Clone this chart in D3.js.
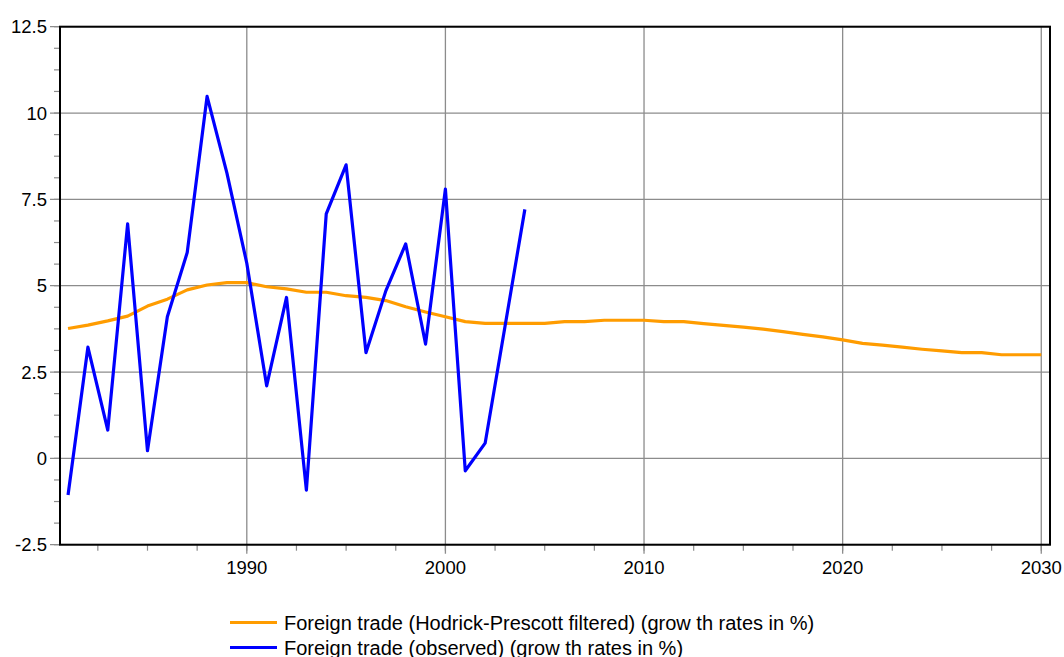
<!DOCTYPE html>
<html>
<head>
<meta charset="utf-8">
<script src="https://cdn.jsdelivr.net/npm/d3@7"></script>
<style>
  body { margin: 0; background: #fff; }
  svg text { font-family: "Liberation Sans", Arial, sans-serif; fill: #000; }
</style>
</head>
<body>
<div id="chart"></div>
<script>
// years and values
var hpYears = d3.range(1981, 2031);
var hpValues = [3.76, 3.86, 3.98, 4.12, 4.41, 4.61, 4.88, 5.02, 5.09, 5.09,
    4.97, 4.91, 4.81, 4.81, 4.71, 4.66, 4.57, 4.39, 4.24, 4.10,
    3.96, 3.91, 3.91, 3.91, 3.91, 3.96, 3.96, 4.00, 4.00, 4.00,
    3.96, 3.96, 3.90, 3.85, 3.80, 3.74, 3.67, 3.59, 3.52, 3.43,
    3.33, 3.28, 3.22, 3.16, 3.11, 3.06, 3.06, 3.00, 3.00, 3.00];

var obsYears = d3.range(1981, 2005);
var obsValues = [-1.06, 3.22, 0.82, 6.79, 0.22, 4.10, 5.96, 10.48, 8.26, 5.65,
    2.10, 4.66, -0.92, 7.08, 8.50, 3.06, 4.85, 6.21, 3.31, 7.80,
    -0.36, 0.44, 3.82, 7.21];

var yTicks = [-2.5, 0, 2.5, 5, 7.5, 10, 12.5];
var xTicks = [1990, 2000, 2010, 2020, 2030];
var legendLabels = ["Foreign trade (Hodrick-Prescott filtered) (grow th rates in %)",
    "Foreign trade (observed) (grow th rates in %)"];
var lineColors = ["#ff9c00", "#0000ff"];

var svg = d3.select("#chart").append("svg").attr("width", 1064).attr("height", 657);

var plotLeft = 60, plotRight = 1050, plotTop = 26.7, plotBottom = 544.7;
var x = d3.scaleLinear().domain([1980.595, 2030.44]).range([plotLeft, plotRight]);
var y = d3.scaleLinear().domain([-2.5, 12.5]).range([plotBottom, plotTop]);

var gridColor = "#8c8c8c";

// minor ticks on y axis (every 0.625)
var yMinor = d3.range(-2.5, 12.5001, 0.625);
svg.selectAll(".yminor").data(yMinor).enter().append("line")
    .attr("x1", plotLeft - 6).attr("x2", plotLeft)
    .attr("y1", function (d) { return y(d); }).attr("y2", function (d) { return y(d); })
    .attr("stroke", gridColor).attr("stroke-width", 1.2);

// minor ticks on x axis (every 2.5 years)
var xMinor = d3.range(1982.5, 2030.1, 2.5);
svg.selectAll(".xminor").data(xMinor).enter().append("line")
    .attr("x1", function (d) { return x(d); }).attr("x2", function (d) { return x(d); })
    .attr("y1", plotBottom).attr("y2", plotBottom + 6)
    .attr("stroke", gridColor).attr("stroke-width", 1.2);

// horizontal grid + major ticks
svg.selectAll(".hgrid").data(yTicks).enter().append("line")
    .attr("x1", plotLeft - 10).attr("x2", plotRight)
    .attr("y1", function (d) { return y(d); }).attr("y2", function (d) { return y(d); })
    .attr("stroke", gridColor).attr("stroke-width", 1.3);

// vertical grid + major ticks
svg.selectAll(".vgrid").data(xTicks).enter().append("line")
    .attr("x1", function (d) { return x(d); }).attr("x2", function (d) { return x(d); })
    .attr("y1", plotTop).attr("y2", plotBottom + 9)
    .attr("stroke", gridColor).attr("stroke-width", 1.3);

// frame
svg.append("rect").attr("x", plotLeft).attr("y", plotTop)
    .attr("width", plotRight - plotLeft).attr("height", plotBottom - plotTop)
    .attr("fill", "none").attr("stroke", "#000").attr("stroke-width", 2);

// tick labels
svg.selectAll(".ylab").data(yTicks).enter().append("text")
    .attr("x", 47).attr("y", function (d) { return y(d) + 6.5; })
    .attr("text-anchor", "end").style("font-size", "18.5px")
    .text(function (d) { return d; });

svg.selectAll(".xlab").data(xTicks).enter().append("text")
    .attr("x", function (d) { return x(d); }).attr("y", 574)
    .attr("text-anchor", "middle").style("font-size", "18.5px")
    .text(function (d) { return d; });

// series lines
var hpLine = d3.line().x(function (d, i) { return x(hpYears[i]); }).y(function (d) { return y(d); });
var obsLine = d3.line().x(function (d, i) { return x(obsYears[i]); }).y(function (d) { return y(d); });

svg.append("path").attr("d", hpLine(hpValues)).attr("fill", "none")
    .attr("stroke", lineColors[0]).attr("stroke-width", 3.2).attr("stroke-linejoin", "round");
svg.append("path").attr("d", obsLine(obsValues)).attr("fill", "none")
    .attr("stroke", lineColors[1]).attr("stroke-width", 3.2).attr("stroke-linejoin", "round");

// legend
legendLabels.forEach(function (label, i) {
    var ly = 622.5 + i * 25;
    svg.append("line").attr("x1", 230).attr("x2", 277).attr("y1", ly).attr("y2", ly)
        .attr("stroke", lineColors[i]).attr("stroke-width", 3.2);
    svg.append("text").text(label).attr("x", 284).attr("y", ly + 7)
        .style("font-size", "20px");
});
</script>
</body>
</html>
